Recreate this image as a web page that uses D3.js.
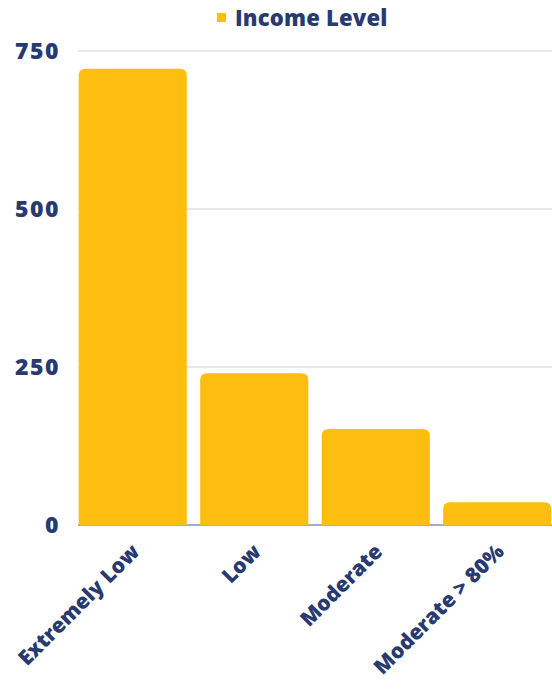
<!DOCTYPE html>
<html>
<head>
<meta charset="utf-8">
<script src="https://cdn.jsdelivr.net/npm/d3@7"></script>
<style>
  body { margin: 0; background: #fff; }
  text { font-family: "Open Sans", Lato, sans-serif; font-weight: 800; fill: #283a70; }
</style>
</head>
<body>
<div id="chart"></div>
<script>
const categories = ['Extremely Low', 'Low', 'Moderate', 'Moderate > 80%'];
const values = [722, 240, 152, 36];
const yTicks = [0, 250, 500, 750];
const seriesName = 'Income Level';

const barColor = '#fdbe10';
const width = 552, height = 694;
const margin = {top: 51, right: 0, bottom: 169, left: 72};

const svg = d3.select('#chart').append('svg')
    .attr('width', width)
    .attr('height', height);

const x = d3.scaleBand()
    .domain(categories)
    .range([margin.left, 558])
    .paddingInner(0.11)
    .paddingOuter(0.055);

const y = d3.scaleLinear()
    .domain([0, 750])
    .range([height - margin.bottom, margin.top]);

// gridlines
svg.append('g')
    .selectAll('line')
    .data(yTicks.filter(d => d > 0))
    .enter()
    .append('line')
        .attr('x1', 78)
        .attr('x2', width)
        .attr('y1', d => y(d))
        .attr('y2', d => y(d))
        .attr('stroke', '#cfd1da')
        .attr('stroke-width', 1);

// baseline
svg.append('line')
    .attr('x1', 78)
    .attr('x2', width)
    .attr('y1', y(0))
    .attr('y2', y(0))
    .attr('stroke', '#8a92b4')
    .attr('stroke-width', 1.5);

// y labels
svg.append('g')
    .selectAll('text')
    .data(yTicks)
    .enter()
    .append('text')
        .attr('x', 60)
        .attr('y', d => y(d))
        .attr('dy', '0.36em')
        .attr('text-anchor', 'end')
        .style('font-size', '23px')
        .style('letter-spacing', '1.5px')
        .text(d => d);

// bars with rounded tops
function barPath(x0, y0, w, h, r) {
    r = Math.min(r, h, w / 2);
    return `M${x0},${y0 + h}V${y0 + r}Q${x0},${y0} ${x0 + r},${y0}` +
        `H${x0 + w - r}Q${x0 + w},${y0} ${x0 + w},${y0 + r}V${y0 + h}Z`;
}

svg.append('g')
    .selectAll('path')
    .data(values)
    .enter()
    .append('path')
        .attr('d', (d, i) => barPath(x(categories[i]), y(d), x.bandwidth(), y(0) - y(d), 7))
        .attr('fill', barColor);

// x labels
svg.append('g')
    .selectAll('text')
    .data(categories)
    .enter()
    .append('text')
        .attr('transform', d => `translate(${x(d) + x.bandwidth() / 2 + 8},${y(0) + 28}) rotate(-45)`)
        .attr('text-anchor', 'end')
        .style('font-size', '21px')
        .text(d => d);

// legend
const legend = svg.append('g');
legend.append('rect')
    .attr('x', 217)
    .attr('y', 13)
    .attr('width', 9)
    .attr('height', 9)
    .attr('fill', barColor);
legend.append('text')
    .attr('x', 235)
    .attr('y', 26)
    .style('font-size', '22px')
    .style('letter-spacing', '0.2px')
    .text(seriesName);
</script>
</body>
</html>
